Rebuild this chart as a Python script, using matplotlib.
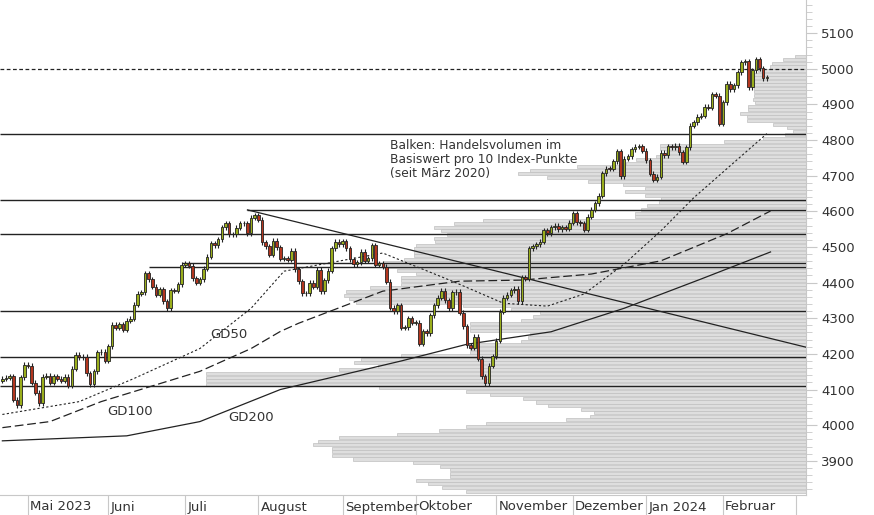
import matplotlib.pyplot as plt
import matplotlib.transforms as mtransforms
import numpy as np
import pandas as pd

# Handelstage (US-Feiertage entfernt)
holidays = ['2023-05-29', '2023-06-19', '2023-07-04', '2023-09-04', '2023-11-23',
            '2023-12-25', '2024-01-01', '2024-01-15']
dates = pd.bdate_range('2023-04-20', '2024-02-19')
dates = dates[~dates.isin(pd.to_datetime(holidays))]

closes = [
    4130, 4133, 4137, 4071, 4056, 4135, 4169,
    4167, 4119, 4091, 4061, 4136, 4138, 4119, 4137, 4130, 4124, 4136, 4110, 4158, 4198, 4191,
    4192, 4145, 4115, 4151, 4205, 4206, 4180,
    4221, 4282, 4273, 4283, 4268, 4293, 4299, 4338, 4369, 4373, 4426, 4410, 4388, 4366, 4381,
    4348, 4328, 4378, 4377, 4396, 4450,
    4455, 4447, 4412, 4399, 4410, 4439, 4472, 4510, 4505, 4522, 4555, 4566, 4535, 4536, 4554,
    4567, 4566, 4538, 4582, 4589,
    4577, 4513, 4502, 4478, 4518, 4499, 4467, 4468, 4464, 4490, 4437, 4404, 4370, 4370, 4400,
    4388, 4436, 4376, 4406, 4433, 4497, 4515, 4508,
    4516, 4497, 4465, 4451, 4457, 4487, 4462, 4468, 4505, 4450, 4454, 4444, 4402, 4330, 4320,
    4337, 4274, 4275, 4300, 4288,
    4288, 4229, 4263, 4258, 4308, 4336, 4358, 4377, 4350, 4328, 4373, 4374, 4315, 4278, 4224,
    4217, 4248, 4186, 4137, 4117, 4167, 4194,
    4237, 4318, 4358, 4366, 4378, 4383, 4347, 4415, 4411, 4496, 4502, 4508, 4514, 4547, 4538,
    4556, 4559, 4550, 4555, 4551, 4568,
    4595, 4569, 4567, 4549, 4585, 4604, 4622, 4644, 4707, 4720, 4719, 4741, 4768, 4698, 4747,
    4755, 4774, 4781, 4783, 4770,
    4743, 4705, 4689, 4697, 4764, 4757, 4783, 4780, 4784, 4766, 4739, 4780, 4840, 4850, 4865,
    4868, 4894, 4891, 4928, 4925, 4846,
    4906, 4958, 4942, 4954, 4990, 5018, 5021, 4948, 4996, 5027, 5001, 4973, 4976,
]
first_open = 4125
wick = 7

# Gleitende Durchschnitte (Handelstag-Index, Kurs)
gd50_day = [0, 21, 36, 54, 68, 77, 104, 123, 137, 149, 159, 170, 180, 189, 209]
gd50_val = [4030, 4066, 4131, 4215, 4328, 4432, 4483, 4404, 4342, 4334, 4368, 4452, 4545, 4638, 4818]
gd100_day = [0, 13, 27, 54, 68, 76, 81, 104, 125, 142, 161, 180, 198, 210]
gd100_val = [3993, 4010, 4066, 4151, 4215, 4263, 4286, 4376, 4404, 4407, 4424, 4461, 4537, 4601]
gd200_day = [0, 34, 54, 76, 109, 127, 150, 170, 191, 210]
gd200_val = [3956, 3970, 4010, 4100, 4180, 4227, 4262, 4328, 4410, 4486]

# Horizontale Marken (Kurs, Start-Index)
levels = [(4818, None), (4632, None), (4604, 67), (4537, None), (4455, 49), (4444, 40),
          (4320, None), (4190, None), (4111, None)]
trend_day = [67, 220]
trend_val = [4604, 4218]

# Volumenprofil: Preisbereiche je 10 Punkte
vp_price = np.arange(3810, 5040, 10)
vp_volume = [
    340, 364, 378, 390, 356, 356, 356, 366, 393, 453,
    474, 474, 474, 493, 488, 467, 409, 367, 340, 320,
    240, 216, 212, 225, 258, 270, 283, 316, 340, 427,
    600, 600, 600, 600, 467, 428, 452, 445, 405, 336,
    336, 337, 285, 278, 276, 336, 336, 336, 285, 273,
    266, 295, 343, 450, 457, 462, 460, 436, 405, 405,
    405, 390, 409, 423, 423, 402, 392, 392, 392, 390,
    371, 372, 359, 365, 372, 352, 323, 171, 171, 165,
    159, 147, 145, 161, 181, 161, 183, 218, 259, 288,
    276, 229, 180, 170, 150, 140, 146, 146, 82, 43,
    21, 13, 19, 33, 59, 59, 66, 58, 58, 51,
    53, 52, 52, 52, 52, 52, 52, 52, 48, 36,
    34, 23, 11,
]

months = ['Mai 2023', 'Juni', 'Juli', 'August', 'September', 'Oktober', 'November',
          'Dezember', 'Jan 2024', 'Februar']

fig = plt.figure(figsize=(8.74, 5.15), dpi=100)
ax = fig.add_axes([0, 20 / 515, 806 / 874, 495 / 515])
ax2 = ax.twiny()
ax.set_zorder(ax2.get_zorder() + 1)
ax.patch.set_visible(False)

# Volumenbalken von rechts
ax2.barh(vp_price[:len(vp_volume)] + 5, vp_volume, height=8.5, color='#dedede',
         edgecolor='#c0c0c0', linewidth=0.5)
ax2.set_xlim(806, 0)
ax2.axis('off')

x = np.arange(len(closes))
c = np.array(closes, dtype=float)
o = np.concatenate([[first_open], c[:-1]])
for i in x:
    up = c[i] >= o[i]
    col = '#9aae1c' if up else '#b3361f'
    lo, hi = min(o[i], c[i]), max(o[i], c[i])
    ax.vlines(i, lo - wick, hi + wick, color='#222222', lw=0.8, zorder=4)
    ax.bar(i, max(hi - lo, 1.5), bottom=lo, width=0.7, color=col, edgecolor='#222222',
           linewidth=0.6, zorder=5)

ax.plot(gd50_day, gd50_val, color='#222222', lw=0.8, ls=(0, (2, 2)), zorder=3)
ax.plot(gd100_day, gd100_val, color='#222222', lw=0.9, ls=(0, (7, 3)), zorder=3)
ax.plot(gd200_day, gd200_val, color='#222222', lw=0.9, zorder=3)

x0, x1 = -0.65, 219.7
for val, start in levels:
    ax.hlines(val, x0 if start is None else start, x1, color='#222222', lw=1.0, zorder=3)
ax.plot(trend_day, trend_val, color='#222222', lw=0.9, zorder=3)
ax.axhline(5000, color='#222222', lw=0.9, ls=(0, (3, 2)), zorder=3)

ax.text(62, 4255, 'GD50', fontsize=9.5, color='#333333', ha='center', va='center')
ax.text(35, 4038, 'GD100', fontsize=9.5, color='#333333', ha='center', va='center')
ax.text(68, 4021, 'GD200', fontsize=9.5, color='#333333', ha='center', va='center')
ax.text(106, 4695, 'Balken: Handelsvolumen im\nBasiswert pro 10 Index-Punkte\n(seit März 2020)',
        fontsize=8.8, color='#333333', linespacing=1.1)

ax.set_xlim(x0, x1)
ax.set_ylim(3804, 5193)
ax.spines[['left', 'top']].set_visible(False)
ax.spines['right'].set_color('#c8c8c8')
ax.spines['bottom'].set_color('#c8c8c8')
ax.yaxis.tick_right()
ax.set_yticks(np.arange(3900, 5101, 100))
ax.set_yticks(np.arange(3820, 5181, 20), minor=True)
ax.tick_params(axis='y', which='major', length=8, color='#c8c8c8', labelsize=9.5,
               labelcolor='#333333', pad=3)
ax.tick_params(axis='y', which='minor', length=4, color='#c8c8c8')

month_start = [np.where((dates.year == y) & (dates.month == m))[0][0]
               for y, m in [(2023, 5), (2023, 6), (2023, 7), (2023, 8), (2023, 9), (2023, 10),
                            (2023, 11), (2023, 12), (2024, 1), (2024, 2)]]
ax.set_xticks(month_start + [month_start[-1] + 20])
ax.set_xticklabels([])
ax.tick_params(axis='x', length=20, color='#c8c8c8', direction='out')
trans = mtransforms.blended_transform_factory(ax.transData, fig.transFigure)
for pos, lab in zip(month_start, months):
    ax.text(pos + 0.6, 8 / 515, lab, transform=trans, fontsize=9.5, color='#333333',
            va='center', ha='left')

fig.savefig('out.png', dpi=100)
